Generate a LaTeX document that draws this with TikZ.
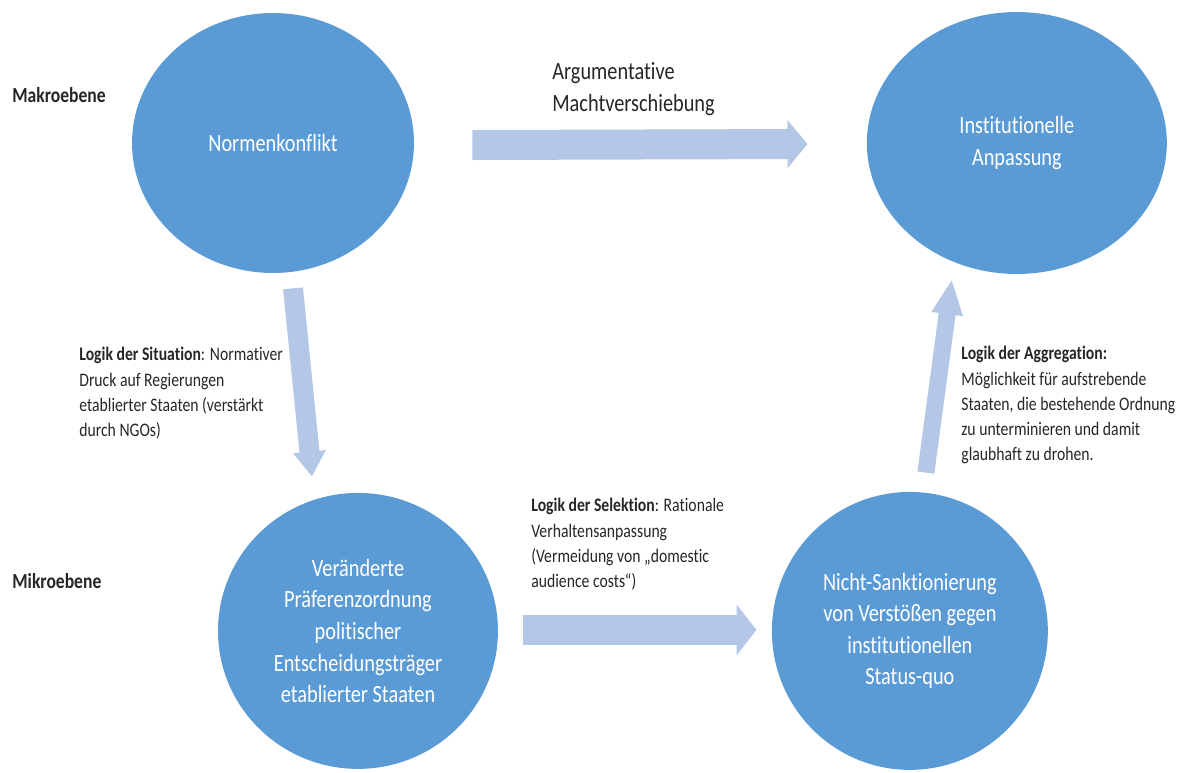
\documentclass[tikz,border=0pt]{standalone}
\usepackage{fontspec}
\setmainfont{Carlito}[FakeStretch=0.82, Ligatures=CommonOff]
\usetikzlibrary{positioning, arrows.meta, shapes.geometric, calc}

\definecolor{kreisblau}{HTML}{5B9BD5}
\definecolor{pfeilblau}{HTML}{B4C7E7}
\definecolor{schrift}{HTML}{262626}

\tikzset{
  kreis/.style={ellipse, fill=kreisblau, text=white, align=center, inner sep=0pt,
    font=\fontsize{14.1}{18}\selectfont},
  logik/.style={anchor=north west, align=left, inner sep=0pt, text=schrift,
    font=\fontsize{10.9}{14.4}\selectfont},
  ebene/.style={anchor=west, inner sep=0pt, text=schrift,
    font=\fontsize{12.2}{14}\selectfont\bfseries},
  blockpfeil/.style={draw=pfeilblau, line width=#1}
}

\begin{document}
\begin{tikzpicture}
	[x=0.02cm, y=-0.02cm, on grid]
   \useasboundingbox (0,0) rectangle (1181,772);
   % Kreise
   \node[kreis, minimum width=5.64cm, minimum height=5.2cm] (makro_1) at (273,143) {Normenkonflikt};
   \node[kreis, minimum width=6cm, minimum height=5.24cm] (makro_2) [right=14.88cm of makro_1] {Institutionelle\\Anpassung};
   \node[kreis, minimum width=5.6cm, minimum height=5.52cm] (mikro_1) [below right=9.76cm and 1.7cm of makro_1] {Veränderte\\Präferenzordnung\\politischer\\Entscheidungsträger\\etablierter Staaten};
   \node[kreis, minimum width=5.52cm, minimum height=5.56cm] (mikro_2) [right=11.04cm of mikro_1] {Nicht-Sanktionierung\\von Verstößen gegen\\institutionellen\\Status-quo};
   % Ebenen
   \node[ebene] (makro) at (12,95) {Makroebene};
   \node[ebene] (mikro) at (12,581) {Mikroebene};
   % Beschriftungen
   \node[logik, font=\fontsize{14.1}{18}\selectfont] (macht) at (552,62) {Argumentative\\Machtverschiebung};
   \node[logik] (situation) at (79,347) {\textbf{Logik der Situation}: Normativer\\Druck auf Regierungen\\etablierter Staaten (verstärkt\\durch NGOs)};
   \node[logik] (selektion) at (531,498) {\textbf{Logik der Selektion}: Rationale\\Verhaltensanpassung\\(Vermeidung von „domestic\\audience costs“)};
   \node[logik] (aggregation) at (961,346) {\textbf{Logik der Aggregation:}\\Möglichkeit für aufstrebende\\Staaten, die bestehende Ordnung\\zu unterminieren und damit\\glaubhaft zu drohen.};
   % Pfeile
   \draw[blockpfeil=0.6cm, -{Triangle[length=0.4cm, width=0.94cm]}]
     ($(makro_1.east)+(58,2)$) -- ($(makro_2.west)+(-59,1)$);
   \draw[blockpfeil=0.6cm, -{Triangle[length=0.4cm, width=1cm]}]
     ($(mikro_1.east)+(25,-1)$) -- ($(mikro_2.west)+(-15,-1)$);
   \draw[blockpfeil=0.4cm, -{Triangle[length=0.5cm, width=0.62cm]}]
     ($(makro_1.south)+(20,15)$) -- ($(mikro_1.north)+(-46,-16)$);
   \draw[blockpfeil=0.34cm, -{Triangle[length=0.7cm, width=0.58cm]}]
     ($(mikro_2.north)+(16,-19)$) -- ($(makro_2.south)+(-65,5)$);
\end{tikzpicture}
\end{document}
